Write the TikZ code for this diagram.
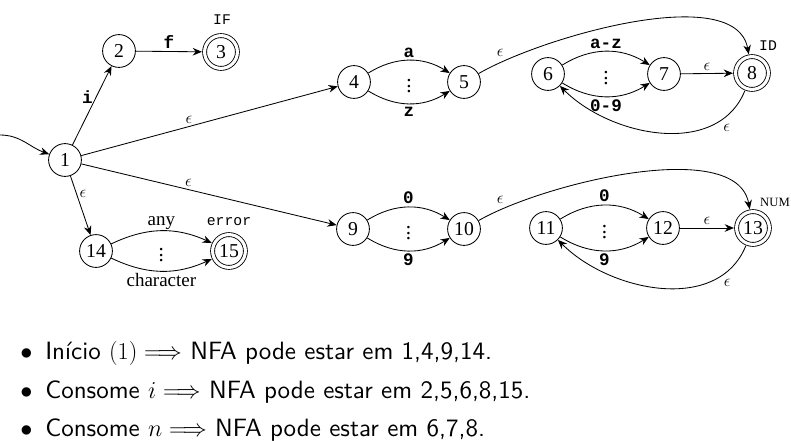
\documentclass[tikz,border=0pt]{standalone}
\usepackage{fontspec}
\setmainfont{Liberation Serif}
\setmonofont{Liberation Mono}
\setsansfont{lmsans10-regular.otf}
\usetikzlibrary{arrows.meta,positioning}
\tikzset{
  st/.style={
    circle, draw, line width=0.6pt,
    minimum size=0.82cm, inner sep=0pt,
    font=\fontsize{14}{16}\selectfont,
  },
  accept/.style={st, double, double distance=2.2pt, outer sep=1.9pt},
  arr/.style={-{Stealth[length=2.3mm,width=1.9mm]}, line width=0.6pt},
  eps/.style={font=\fontsize{12}{14}\selectfont, inner sep=2pt},
  sym/.style={font=\fontsize{12.5}{14}\selectfont\ttfamily\bfseries, inner sep=2pt},
  tag/.style={font=\fontsize{10.5}{12}\selectfont\ttfamily, inner sep=0pt},
  word/.style={font=\fontsize{13.5}{15}\selectfont, inner sep=1pt},
  vdot/.style={font=\fontsize{15}{17}\selectfont, inner sep=0pt},
  bulletline/.style={anchor=base west, inner sep=0pt, font=\fontsize{17.8}{20}\selectfont\sffamily},
}

\begin{document}
\begin{tikzpicture}[x=0.025cm, y=0.025cm]
\useasboundingbox (0,0) rectangle (791,-441);

% ===== states =====
\coordinate (start) at (0,-135);
\node[st] (n1) at (65,-160) {1};
\node[st] (n2) at (119,-51) {2};
\node[accept] (n3) at (221,-52) {3};
\node[st] (n4) at (354,-82) {4};
\node[st] (n5) at (464,-82) {5};
\node[st] (n6) at (548,-74) {6};
\node[st] (n7) at (664,-74) {7};
\node[accept] (n8) at (752,-73) {8};
\node[st] (n9) at (353,-229) {9};
\node[st] (n10) at (464,-229) {10};
\node[st] (n11) at (546,-228) {11};
\node[st] (n12) at (663,-228) {12};
\node[accept] (n13) at (753,-228) {13};
\node[st] (n14) at (96,-251) {14};
\node[accept] (n15) at (229,-251) {15};

% ===== token names =====
\node[tag] (tif) at (222,-20) {IF};
\node[tag] (tid) at (768,-46) {ID};
\node[font=\fontsize{9}{10}\selectfont, inner sep=0pt] (tnum) at (775,-202) {NUM};
\node[tag] (terr) at (229,-222) {error};

% ===== IF =====
\draw[arr] (start) to[out=0, in=160] (n1);
\draw[arr] (n1) -- node[sym, left, pos=0.6] {i} (n2);
\draw[arr] (n2) -- node[sym, above] {f} (n3);

% ===== ID =====
\draw[arr] (n1) -- node[eps, above, pos=0.42] {$\epsilon$} (n4);
\draw[arr] (n4) to[bend left=32] node[sym, above] {a} (n5);
\draw[arr] (n4) to[bend right=32] node[sym, below] {z} (n5);
\path (n4) -- node[vdot] {$\vdots$} (n5);
\draw[arr] (n5) to[out=30, in=100, looseness=0.7]
  node[eps, pos=0.12, above left] {$\epsilon$} (n8);
\draw[arr] (n6) to[bend left=32] node[sym, above] {a-z} (n7);
\draw[arr] (n6) to[bend right=32] node[sym, below] {0-9} (n7);
\path (n6) -- node[vdot] {$\vdots$} (n7);
\draw[arr] (n7) -- node[eps, above] {$\epsilon$} (n8);
\draw[arr] (n8) to[out=-112, in=-45, looseness=1.0]
  node[eps, pos=0.2, below right] {$\epsilon$} (n6);

% ===== NUM =====
\draw[arr] (n1) -- node[eps, above, pos=0.42] {$\epsilon$} (n9);
\draw[arr] (n9) to[bend left=32] node[sym, above] {0} (n10);
\draw[arr] (n9) to[bend right=32] node[sym, below] {9} (n10);
\path (n9) -- node[vdot] {$\vdots$} (n10);
\draw[arr] (n10) to[out=30, in=100, looseness=0.7]
  node[eps, pos=0.12, above left] {$\epsilon$} (n13);
\draw[arr] (n11) to[bend left=32] node[sym, above] {0} (n12);
\draw[arr] (n11) to[bend right=32] node[sym, below] {9} (n12);
\path (n11) -- node[vdot] {$\vdots$} (n12);
\draw[arr] (n12) -- node[eps, above] {$\epsilon$} (n13);
\draw[arr] (n13) to[out=-112, in=-45, looseness=1.0]
  node[eps, pos=0.2, below right] {$\epsilon$} (n11);

% ===== error =====
\draw[arr] (n1) -- node[eps, right, pos=0.3] {$\epsilon$} (n14);
\draw[arr] (n14) to[bend left=25] node[word, above] {any} (n15);
\draw[arr] (n14) to[bend right=25] node[word, below] {character} (n15);
\path (n14) -- node[vdot] {$\vdots$} (n15);

% ===== notes =====
\node[bulletline] (b1) at (20,-359) {$\bullet$};
\node[bulletline] (l1) at (45,-359) {Início $(1) \Longrightarrow$ NFA pode estar em 1,4,9,14.};
\node[bulletline] (b2) at (20,-398) {$\bullet$};
\node[bulletline] (l2) at (45,-398) {Consome $i \Longrightarrow$ NFA pode estar em 2,5,6,8,15.};
\node[bulletline] (b3) at (20,-436) {$\bullet$};
\node[bulletline] (l3) at (45,-436) {Consome $n \Longrightarrow$ NFA pode estar em 6,7,8.};

\end{tikzpicture}
\end{document}
